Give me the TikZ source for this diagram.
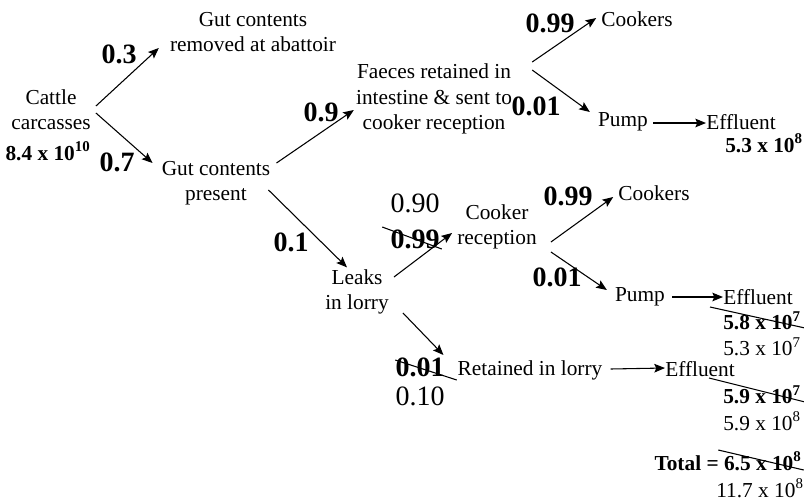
\documentclass[tikz,border=0pt]{standalone}
\usepackage{fontspec}
\setmainfont{Liberation Serif}
\usetikzlibrary{arrows.meta,calc}
\tikzset{
  txt/.style={inner sep=0pt, align=center, font=\fontsize{16}{19}\selectfont},
  val/.style={inner sep=0pt, align=center, font=\fontsize{16}{19}\selectfont\bfseries},
  prob/.style={inner sep=0pt, font=\fontsize{21}{24}\selectfont\bfseries},
  oldprob/.style={inner sep=0pt, font=\fontsize{21}{24}\selectfont},
  arr/.style={line width=0.8pt, -{Stealth[length=8pt,width=6.5pt,inset=1.5pt]}},
  strike/.style={line width=0.8pt}
}
\begin{document}
\begin{tikzpicture}[x=0.75pt,y=-0.75pt]
\useasboundingbox (0,0) rectangle (804,501);
% nodes
\node[txt] (gutrem) at (253,32) {Gut contents\\removed at abattoir};
\node[txt] (cattle) at (51,110) {Cattle\\carcasses};
\node[val] (v1) at (48,151) {8.4 x 10\textsuperscript{10}};
\node[prob] (p03) at (119,54) {0.3};
\node[prob] (p07) at (117,162) {0.7};
\node[txt] (gutpres) at (216,183) {Gut contents\\present};
\node[prob] (p09) at (321,112) {0.9};
\node[txt] (faeces) at (434,99) {Faeces retained in\\intestine \& sent to\\cooker reception};
\node[prob] (p099a) at (550,23) {0.99};
\node[txt] (cookers1) at (637,19) {Cookers};
\node[prob] (p001a) at (536,106) {0.01};
\node[txt] (pump1) at (623,122) {Pump};
\node[txt] (eff1) at (741,122) {Effluent};
\node[val] (v2) at (764,143) {5.3 x 10\textsuperscript{8}};
\node[prob] (p01) at (291,242) {0.1};
\node[txt] (leaks) at (357,292) {Leaks\\in lorry};
\node[oldprob] (p090) at (415,203) {0.90};
\node[prob] (p099b) at (415,239) {0.99};
\node[txt] (cookrec) at (497,227) {Cooker\\reception};
\node[prob] (p099c) at (568,196) {0.99};
\node[txt] (cookers2) at (654,193) {Cookers};
\node[prob] (p001b) at (557,277) {0.01};
\node[txt] (pump2) at (640,297) {Pump};
\node[txt] (eff2) at (758,297) {Effluent};
\node[val] (v3) at (762,321) {5.8 x 10\textsuperscript{7}};
\node[txt] (v3n) at (762,347) {5.3 x 10\textsuperscript{7}};
\node[prob] (p001c) at (420,367) {0.01};
\node[oldprob] (p010) at (420,396) {0.10};
\node[txt] (retained) at (530,370) {Retained in lorry};
\node[txt] (eff3) at (700,369) {Effluent};
\node[val] (v4) at (762,395) {5.9 x 10\textsuperscript{7}};
\node[txt] (v4n) at (762,421) {5.9 x 10\textsuperscript{8}};
\node[val] (tot) at (728,461) {Total = 6.5 x 10\textsuperscript{8}};
\node[txt] (totn) at (760,488) {11.7 x 10\textsuperscript{8}};
% connectors
\draw[arr] ($(cattle.east)+(5,-4)$) -- ($(gutrem.west)+(-11,16)$);
\draw[arr] ($(cattle.east)+(5,3)$) -- ($(gutpres.west)+(-9,-20)$);
\draw[arr] ($(gutpres.east)+(6,-20)$) -- ($(faeces.west)+(-2,11)$);
\draw[arr] ($(gutpres.east)+(-2,7)$) -- ($(leaks.north)+(-10,-2)$);
\draw[arr] ($(faeces.east)+(20,-37)$) -- ($(cookers1.west)+(-5,-1)$);
\draw[arr] ($(faeces.east)+(20,-29)$) -- ($(pump1.west)+(-8,-10)$);
\draw[arr] ($(pump1.east)+(5,1)$) -- ($(eff1.west)+(0,1)$);
\draw[arr] ($(leaks.east)+(5,-15)$) -- ($(cookrec.west)+(-5,6)$);
\draw[arr] ($(leaks.east)+(14,21)$) -- ($(retained.west)+(-14,-15)$);
\draw[arr] ($(cookrec.east)+(14,15)$) -- ($(cookers2.west)+(-5,4)$);
\draw[arr] ($(cookrec.east)+(14,25)$) -- ($(pump2.west)+(-8,-7)$);
\draw[arr] ($(pump2.east)+(7,0)$) -- (eff2.west);
\draw[arr] ($(retained.east)+(8,-1)$) -- ($(eff3.west)+(0,-1)$);
% strike-through lines
\draw[strike] ($(p099b.west)+(-8,-12)$) -- ($(p099b.east)+(2,10)$);
\draw[strike] ($(p001c.west)+(0,-7)$) -- ($(p001c.east)+(12,13)$);
\draw[strike] ($(v3.west)+(-13,-14)$) -- ($(v3.east)+(4,7)$);
\draw[strike] ($(v4.west)+(-14,-17)$) -- ($(v4.east)+(4,7)$);
\draw[strike] ($(tot.west)+(64,-11)$) -- ($(tot.east)+(2,9)$);
\end{tikzpicture}
\end{document}
